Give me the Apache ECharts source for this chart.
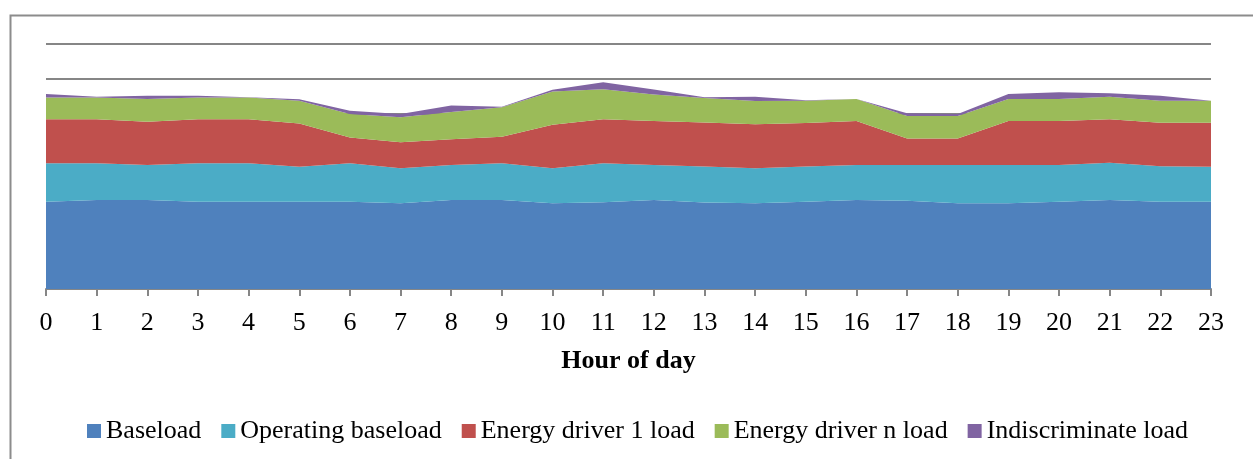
<!DOCTYPE html>
<html>
<head>
<meta charset="utf-8">
<script src="https://cdn.jsdelivr.net/npm/echarts@6/dist/echarts.min.js"></script>
<style>
  html, body { margin: 0; padding: 0; background: #ffffff; }
  #chart { width: 1253px; height: 459px; }
</style>
</head>
<body>
<div id="chart"></div>
<script>
// Hours of the day along the x axis
const hours = ['0','1','2','3','4','5','6','7','8','9','10','11','12','13','14','15','16','17','18','19','20','21','22','23'];

// Load components per hour (stacked)
const baseload = [24.9, 25.4, 25.4, 24.9, 24.9, 24.9, 24.9, 24.5, 25.4, 25.4, 24.5, 24.8, 25.4, 24.7, 24.5, 24.9, 25.4, 25.2, 24.5, 24.5, 24.9, 25.4, 24.9, 24.9];
const operatingBaseload = [11.0, 10.5, 10.0, 11.0, 11.0, 10.0, 11.0, 10.0, 10.0, 10.5, 10.0, 11.1, 10.0, 10.3, 10.0, 10.1, 10.0, 10.2, 10.9, 10.9, 10.5, 10.7, 10.2, 10.0];
const energyDriver1 = [12.6, 12.6, 12.4, 12.6, 12.6, 12.4, 7.4, 7.4, 7.4, 7.6, 12.4, 12.6, 12.6, 12.6, 12.6, 12.4, 12.6, 7.6, 7.6, 12.6, 12.6, 12.4, 12.4, 12.6];
const energyDriverN = [6.2, 6.2, 6.5, 6.2, 6.2, 6.5, 6.7, 7.2, 7.8, 8.4, 9.5, 8.6, 7.6, 7.0, 6.6, 6.4, 6.3, 6.4, 6.4, 6.3, 6.3, 6.4, 6.3, 6.3];
const indiscriminate = [1.0, 0.2, 0.9, 0.5, 0.1, 0.4, 0.9, 0.9, 1.8, 0.2, 0.5, 2.0, 1.4, 0.2, 1.2, 0.1, 0.0, 0.8, 0.6, 1.4, 1.9, 1.0, 1.4, 0.0];

const seriesNames = ['Baseload', 'Operating baseload', 'Energy driver 1 load', 'Energy driver n load', 'Indiscriminate load'];
const seriesColors = ['#4F81BD', '#4BACC6', '#C0504D', '#9BBB59', '#8064A2'];
const seriesData = [baseload, operatingBaseload, energyDriver1, energyDriverN, indiscriminate];

const serifFont = '"Liberation Serif", "Times New Roman", serif';

const chart = echarts.init(document.getElementById('chart'), null, { renderer: 'canvas' });

chart.setOption({
  animation: false,
  backgroundColor: '#ffffff',
  graphic: [
    {
      // frame around the chart area (top and left edges visible)
      type: 'rect',
      left: 8,
      top: 13,
      shape: { width: 1300, height: 500 },
      style: { fill: 'none', stroke: '#8c8c8c', lineWidth: 2 },
      silent: true,
      z: -1
    }
  ],
  grid: { left: 46, right: 42, top: 44, bottom: 170, containLabel: false },
  legend: {
    data: seriesNames,
    left: 82,
    top: 413,
    icon: 'rect',
    itemWidth: 14,
    itemHeight: 14,
    itemGap: 20,
    textStyle: { fontFamily: serifFont, fontSize: 26, color: '#000000' }
  },
  xAxis: {
    type: 'category',
    data: hours,
    boundaryGap: false,
    name: 'Hour of day',
    nameLocation: 'middle',
    nameGap: 59,
    nameTextStyle: { fontFamily: serifFont, fontSize: 26, fontWeight: 'bold', color: '#000000' },
    axisLine: { show: true, lineStyle: { color: '#868686', width: 2 } },
    axisTick: { show: true, length: 7, lineStyle: { color: '#868686', width: 2 } },
    axisLabel: { fontFamily: serifFont, fontSize: 26, color: '#000000', margin: 21 },
    splitLine: { show: false }
  },
  yAxis: {
    type: 'value',
    min: 0,
    max: 70,
    interval: 10,
    axisLine: { show: false },
    axisTick: { show: false },
    axisLabel: { show: false },
    splitLine: { show: true, lineStyle: { color: '#868686', width: 2 } }
  },
  series: seriesNames.map((name, i) => ({
    name: name,
    type: 'line',
    stack: 'load',
    data: seriesData[i],
    symbol: 'none',
    smooth: false,
    color: seriesColors[i],
    lineStyle: { width: 0 },
    areaStyle: { color: seriesColors[i], opacity: 1 },
    emphasis: { disabled: true }
  }))
});
</script>
</body>
</html>
